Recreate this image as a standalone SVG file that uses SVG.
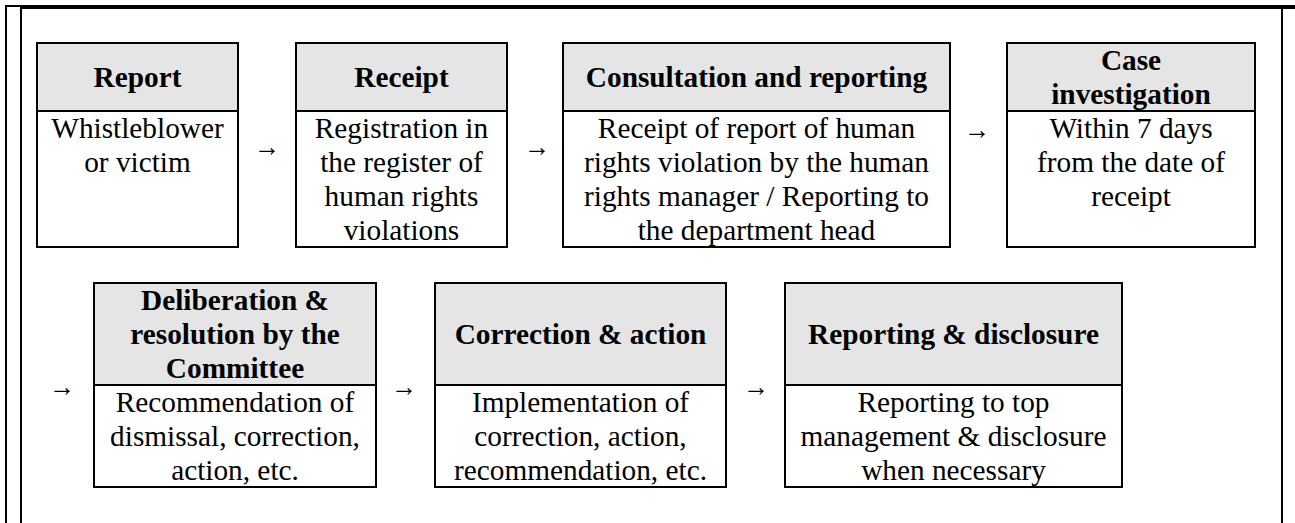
<svg xmlns="http://www.w3.org/2000/svg" width="1295" height="523" viewBox="0 0 1295 523">
<style>
  .frame { stroke: #000; fill: none; }
  .box { fill: #fff; stroke: #000; stroke-width: 2; }
  .hdr { fill: #e5e5e5; stroke: #000; stroke-width: 2; }
  .h { font-family: "Liberation Serif", "Times New Roman", serif; font-size: 29.3px; font-weight: bold; fill: #000; text-anchor: middle; }
  .b { font-family: "Liberation Serif", "Times New Roman", serif; font-size: 29.3px; fill: #000; text-anchor: middle; }
  .arr { font-family: "Liberation Serif", "DejaVu Serif", serif; font-size: 29.3px; fill: #000; }
</style>
<rect width="1295" height="523" fill="#fff"/>
<g id="frame" class="frame">
  <line x1="6" y1="5" x2="6" y2="523" stroke-width="2"/>
  <line x1="21" y1="5" x2="21" y2="523" stroke-width="2"/>
  <line x1="5" y1="6" x2="21" y2="6" stroke-width="2"/>
  <line x1="20" y1="7" x2="1295" y2="7" stroke-width="4"/>
  <line x1="1282" y1="5" x2="1282" y2="523" stroke-width="2"/>
</g>
<g id="connectors">
  <text class="arr" x="254" y="156" textLength="26" lengthAdjust="spacingAndGlyphs">→</text>
  <text class="arr" x="524" y="156" textLength="26" lengthAdjust="spacingAndGlyphs">→</text>
  <text class="arr" x="964" y="139" textLength="26" lengthAdjust="spacingAndGlyphs">→</text>
  <text class="arr" x="49" y="396" textLength="26" lengthAdjust="spacingAndGlyphs">→</text>
  <text class="arr" x="391" y="396" textLength="26" lengthAdjust="spacingAndGlyphs">→</text>
  <text class="arr" x="743" y="396" textLength="26" lengthAdjust="spacingAndGlyphs">→</text>
</g>
<g id="report">
  <rect class="hdr" x="37" y="43" width="201" height="68"/>
  <rect class="box" x="37" y="111" width="201" height="136"/>
  <text class="h" x="137.5" y="87">Report</text>
  <text class="b" x="137.5" y="138">Whistleblower</text>
  <text class="b" x="137.5" y="172">or victim</text>
</g>
<g id="receipt">
  <rect class="hdr" x="296" y="43" width="211" height="68"/>
  <rect class="box" x="296" y="111" width="211" height="136"/>
  <text class="h" x="401.5" y="87">Receipt</text>
  <text class="b" x="401.5" y="138">Registration in</text>
  <text class="b" x="401.5" y="172">the register of</text>
  <text class="b" x="401.5" y="206">human rights</text>
  <text class="b" x="401.5" y="240">violations</text>
</g>
<g id="consultation">
  <rect class="hdr" x="563" y="43" width="387" height="68"/>
  <rect class="box" x="563" y="111" width="387" height="136"/>
  <text class="h" x="756.5" y="87">Consultation and reporting</text>
  <text class="b" x="756.5" y="138">Receipt of report of human</text>
  <text class="b" x="756.5" y="172">rights violation by the human</text>
  <text class="b" x="756.5" y="206">rights manager / Reporting to</text>
  <text class="b" x="756.5" y="240">the department head</text>
</g>
<g id="investigation">
  <rect class="hdr" x="1007" y="43" width="248" height="68"/>
  <rect class="box" x="1007" y="111" width="248" height="136"/>
  <text class="h" x="1131" y="70">Case</text>
  <text class="h" x="1131" y="104">investigation</text>
  <text class="b" x="1131" y="138">Within 7 days</text>
  <text class="b" x="1131" y="172">from the date of</text>
  <text class="b" x="1131" y="206">receipt</text>
</g>
<g id="deliberation">
  <rect class="hdr" x="94" y="283" width="282" height="102"/>
  <rect class="box" x="94" y="385" width="282" height="102"/>
  <text class="h" x="235" y="310">Deliberation &amp;</text>
  <text class="h" x="235" y="344">resolution by the</text>
  <text class="h" x="235" y="378">Committee</text>
  <text class="b" x="235" y="412">Recommendation of</text>
  <text class="b" x="235" y="446">dismissal, correction,</text>
  <text class="b" x="235" y="480">action, etc.</text>
</g>
<g id="correction">
  <rect class="hdr" x="435" y="283" width="291" height="102"/>
  <rect class="box" x="435" y="385" width="291" height="102"/>
  <text class="h" x="580.5" y="344">Correction &amp; action</text>
  <text class="b" x="580.5" y="412">Implementation of</text>
  <text class="b" x="580.5" y="446">correction, action,</text>
  <text class="b" x="580.5" y="480">recommendation, etc.</text>
</g>
<g id="disclosure">
  <rect class="hdr" x="785" y="283" width="337" height="102"/>
  <rect class="box" x="785" y="385" width="337" height="102"/>
  <text class="h" x="953.5" y="344">Reporting &amp; disclosure</text>
  <text class="b" x="953.5" y="412">Reporting to top</text>
  <text class="b" x="953.5" y="446">management &amp; disclosure</text>
  <text class="b" x="953.5" y="480">when necessary</text>
</g>
</svg>
